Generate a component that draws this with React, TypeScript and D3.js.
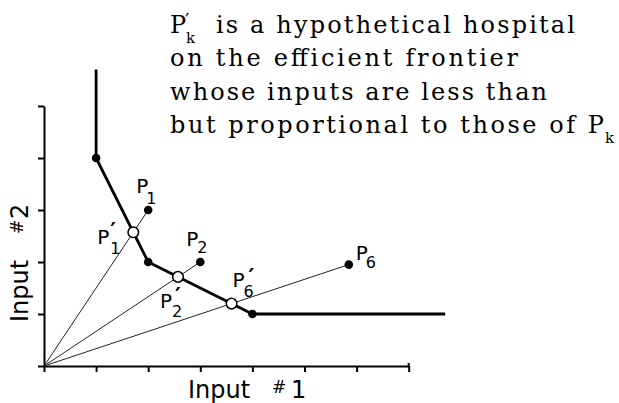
import React, { useEffect, useRef } from 'react';
import * as d3 from 'd3';

const W = 619;
const H = 403;

// Efficient frontier (Input #1, Input #2)
const frontierX = [1, 1, 2, 4, 7.7];
const frontierY = [5.7, 4, 2, 1, 1];
// Observed efficient hospitals on the frontier (vertices)
const vertexX = [1, 2, 4];
const vertexY = [4, 2, 1];
// Inefficient hospitals
const hospNames = ['1', '2', '6'];
const hospX = [2, 3, 5.85];
const hospY = [3, 2, 1.95];

const xTicks = [0, 1, 2, 3, 4, 5, 6, 7];
const yTicks = [0, 1, 2, 3, 4, 5];

const titleLines = [
  'is a hypothetical hospital',
  'on the efficient frontier',
  'whose inputs are less than',
  'but proportional to those of P',
];

const x = d3.scaleLinear().domain([0, 7]).range([44, 408.7]);
const y = d3.scaleLinear().domain([0, 5]).range([366, 106]);

// intersection of ray from origin through (px,py) with frontier
function project(px: number, py: number): [number, number] {
  for (let i = 0; i < frontierX.length - 1; i++) {
    const ax = frontierX[i], ay = frontierY[i];
    const bx = frontierX[i + 1], by = frontierY[i + 1];
    const dx = bx - ax, dy = by - ay;
    const den = px * dy - py * dx;
    if (Math.abs(den) < 1e-9) continue;
    const t = (ax * dy - ay * dx) / den;
    const s = (ax * py - ay * px) / den;
    if (s >= 0 && s <= 1 && t > 0) return [t * px, t * py];
  }
  return [px, py];
}

const sans = 'DejaVu Sans, sans-serif';
const serif = 'DejaVu Serif, serif';

// label layout offsets (pixels), relative to mark
const labelCfg: Record<string, { dx: number; dy: number; sx: number; sy: number; px?: number; py?: number }> = {
  'h1': { dx: -12, dy: -17, sx: 10, sy: 11 },
  'h2': { dx: -14, dy: -16, sx: 11, sy: 7 },
  'h6': { dx: 7, dy: -5, sx: 10, sy: 8 },
  'p1': { dx: -36, dy: 12, sx: 13, sy: 10, px: 13, py: -6 },
  'p2': { dx: -18, dy: 31, sx: 12, sy: 9, px: 15, py: -5 },
  'p6': { dx: 1, dy: -17, sx: 11, sy: 10, px: 16, py: -3 },
};

function PLabel({ x0, y0, sub, prime, cfg }: any) {
  const bx = x0 + cfg.dx;
  const by = y0 + cfg.dy;
  return (
    <text fontFamily={sans} fill="#000" fontSize={20}>
      <tspan x={bx} y={by}>P</tspan>
      {prime && (
        <tspan x={bx + cfg.px} y={by + cfg.py} fontSize={22} fontWeight="bold">′</tspan>
      )}
      <tspan x={bx + cfg.sx} y={by + cfg.sy} fontSize={16}>{sub}</tspan>
    </text>
  );
}

export default function App() {
  const gx = useRef<SVGGElement>(null);
  const gy = useRef<SVGGElement>(null);

  useEffect(() => {
    const ax = d3.axisBottom(x).tickValues(xTicks).tickSize(6).tickSizeOuter(0).tickFormat(() => '');
    const sx = d3.select(gx.current!);
    sx.call(ax as any);
    sx.select('.domain').attr('stroke-width', 2);
    sx.selectAll('.tick line').attr('stroke-width', 2);
    const ay = d3.axisLeft(y).tickValues(yTicks).tickSize(6).tickSizeOuter(0).tickFormat(() => '');
    const sy = d3.select(gy.current!);
    sy.call(ay as any);
    sy.select('.domain').attr('stroke-width', 2);
    sy.selectAll('.tick line').attr('stroke-width', 2);
  }, []);

  const frontierPts = frontierX.map((v, i) => [x(v), y(frontierY[i])] as [number, number]);
  const line = d3.line();
  const proj = hospX.map((v, i) => project(v, hospY[i]));

  return (
    <svg width={W} height={H} style={{ position: 'absolute', left: 0, top: 0, background: '#fff' }}>
      <rect width={W} height={H} fill="#fff" />
      {/* title */}
      <g fontFamily={serif} fontSize={24} fill="#000">
        <text>
          <tspan x={170} y={33}>P</tspan>
          <tspan x={185} y={28} fontSize={20}>′</tspan>
          <tspan x={186} y={43} fontSize={15}>k</tspan>
        </text>
        <text x={216} y={33} textLength={359} lengthAdjust="spacing">{titleLines[0]}</text>
        <text x={170} y={66} textLength={348} lengthAdjust="spacing">{titleLines[1]}</text>
        <text x={170} y={100} textLength={377} lengthAdjust="spacing">{titleLines[2]}</text>
        <text>
          <tspan x={170} y={133} textLength={434} lengthAdjust="spacing">{titleLines[3]}</tspan>
          <tspan x={605} y={143} fontSize={15}>k</tspan>
        </text>
      </g>

      {/* axes */}
      <g ref={gx} transform={`translate(0,${y(0)})`} />
      <g ref={gy} transform={`translate(${x(0)},0)`} />
      <line x1={x(7)} x2={x(7)} y1={y(0) - 3} y2={y(0)} stroke="#000" strokeWidth={2} />

      {/* rays */}
      {hospX.map((v, i) => (
        <line key={'r' + i} x1={x(0)} y1={y(0)} x2={x(v)} y2={y(hospY[i])} stroke="#222" strokeWidth={1} />
      ))}

      {/* frontier */}
      <path d={line(frontierPts) || ''} fill="none" stroke="#000" strokeWidth={2.8} strokeLinejoin="round" />

      {vertexX.map((v, i) => (
        <circle key={'v' + i} cx={x(v)} cy={y(vertexY[i])} r={4.3} fill="#000" />
      ))}
      {hospX.map((v, i) => (
        <circle key={'h' + i} cx={x(v)} cy={y(hospY[i])} r={4.3} fill="#000" />
      ))}
      {proj.map((p, i) => (
        <circle key={'p' + i} cx={x(p[0])} cy={y(p[1])} r={5.3} fill="#fff" stroke="#000" strokeWidth={1.5} />
      ))}

      {/* labels */}
      {hospNames.map((n, i) => (
        <PLabel key={'lh' + n} x0={x(hospX[i])} y0={y(hospY[i])} sub={n} cfg={labelCfg['h' + n]} />
      ))}
      {hospNames.map((n, i) => (
        <PLabel key={'lp' + n} x0={x(proj[i][0])} y0={y(proj[i][1])} sub={n} prime cfg={labelCfg['p' + n]} />
      ))}

      {/* axis titles */}
      <g fontFamily={sans} fill="#000">
        <text>
          <tspan x={188} y={398} fontSize={24}>Input</tspan>
          <tspan x={272} y={393} fontSize={17}>#</tspan>
          <tspan x={291} y={398} fontSize={24}>1</tspan>
        </text>
        <g transform="translate(28,322) rotate(-90)">
          <text>
            <tspan x={0} y={0} fontSize={24}>Input</tspan>
            <tspan x={88} y={-5} fontSize={17}>#</tspan>
            <tspan x={103} y={0} fontSize={24}>2</tspan>
          </text>
        </g>
      </g>
    </svg>
  );
}
